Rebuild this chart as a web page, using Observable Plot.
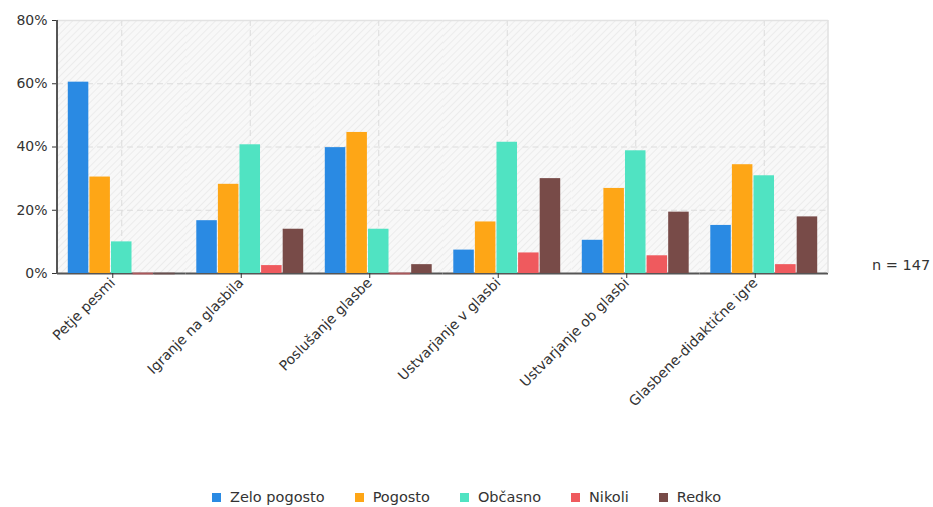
<!DOCTYPE html>
<html>
<head>
<meta charset="utf-8">
<script src="https://cdn.jsdelivr.net/npm/d3@7"></script>
<script src="https://cdn.jsdelivr.net/npm/@observablehq/plot@0.6"></script>
<style>
  body { margin: 0; background: #fff; font-family: "DejaVu Sans", Verdana, sans-serif; color: #333; }
  #wrap { position: relative; width: 933px; height: 507px; }
  #n { position: absolute; left: 872px; top: 257px; font-size: 14.5px; color: #333; }
  #legend { position: absolute; left: 0; width: 933px; top: 489px; display: flex; justify-content: center; gap: 30px; font-size: 14.5px; color: #333; }
  #legend .item { display: flex; align-items: center; gap: 9px; }
  #legend .sw { width: 9px; height: 9px; display: inline-block; }
</style>
</head>
<body>
<div id="wrap">
  <div id="chart"></div>
  <div id="n">n = 147</div>
  <div id="legend"></div>
</div>
<script>
const categories = ["Petje pesmi", "Igranje na glasbila", "Poslušanje glasbe", "Ustvarjanje v glasbi", "Ustvarjanje ob glasbi", "Glasbene-didaktične igre"];
const series = ["Zelo pogosto", "Pogosto", "Občasno", "Nikoli", "Redko"];
const colors = ["#2a8ae3", "#fea616", "#50e3c2", "#ef5a5e", "#784b48"];
const zeloPogosto = [60.5, 16.7, 39.8, 7.4, 10.5, 15.2];
const pogosto     = [30.5, 28.2, 44.6, 16.3, 26.9, 34.4];
const obcasno     = [10.0, 40.7, 14.0, 41.5, 38.8, 30.9];
const nikoli      = [0.0, 2.5, 0.0, 6.5, 5.6, 2.8];
const redko       = [0.0, 14.0, 2.8, 30.0, 19.4, 17.9];
const yTicks = [0, 20, 40, 60, 80];

const seriesValues = [zeloPogosto, pogosto, obcasno, nikoli, redko];
const data = [];
categories.forEach((c, i) => {
  series.forEach((s, j) => data.push({category: c, series: s, value: seriesValues[j][i]}));
});

const plot = Plot.plot({
  width: 933,
  height: 480,
  marginTop: 20,
  marginLeft: 57,
  marginRight: 105,
  marginBottom: 207,
  style: {fontFamily: "'DejaVu Sans', Verdana, sans-serif", fontSize: "12px", color: "#333", background: "transparent", overflow: "visible"},
  fx: {domain: categories, padding: 0, round: false, label: null},
  x: {domain: series, paddingInner: 0.05, paddingOuter: 0.5, round: false, axis: null},
  y: {domain: [0, 80], label: null},
  color: {domain: series, range: colors},
  marks: [
    Plot.frame({fill: "url(#hatch)", stroke: "none"}),
    Plot.gridY(yTicks.filter(d => d > 0 && d < 80), {stroke: "#dcdcdc", strokeOpacity: 1, strokeDasharray: "6,4"}),
    Plot.ruleX([series[2]], {stroke: "#dcdcdc", strokeDasharray: "6,4"}),
    Plot.ruleY([80], {stroke: "#e2e2e2", strokeWidth: 1.5}),
    Plot.ruleY([0], {stroke: "#555", strokeWidth: 2}),
    Plot.barY(data, {fx: "category", x: "series", y: "value", fill: "series"}),
    Plot.tickY(data.filter(d => d.value === 0), {fx: "category", x: "series", y: "value", stroke: "series", strokeWidth: 2, strokeOpacity: 0.55}),
    Plot.axisY({ticks: yTicks, tickFormat: d => d + "%", tickSize: 5, tickPadding: 5, label: null, fontSize: 14}),
    Plot.axisFx({anchor: "bottom", tickRotate: -45, tickSize: 5, tickPadding: 2, dx: -9, label: null, fontSize: 14})
  ]
});

document.getElementById("chart").appendChild(plot);

// hatch pattern & frame borders
const svg = d3.select(plot);
const defs = svg.insert("defs", ":first-child");
const pat = defs.append("pattern")
  .attr("id", "hatch").attr("patternUnits", "userSpaceOnUse")
  .attr("width", 5).attr("height", 5).attr("patternTransform", "rotate(45)");
pat.append("rect").attr("width", 5).attr("height", 5).attr("fill", "#f8f8f8");
pat.append("line").attr("x1", 0).attr("y1", 0).attr("x2", 0).attr("y2", 5).attr("stroke", "#ececec").attr("stroke-width", 2);

const fxr = plot.scale("fx").range;
const yS = plot.scale("y");
const y0 = yS.apply(0), y80 = yS.apply(80);
svg.append("line").attr("x1", fxr[1]).attr("x2", fxr[1]).attr("y1", y80).attr("y2", y0)
  .attr("stroke", "#e2e2e2").attr("stroke-width", 1.5);
svg.append("line").attr("x1", fxr[0]).attr("x2", fxr[0]).attr("y1", y80).attr("y2", y0 + 1)
  .attr("stroke", "#555").attr("stroke-width", 2);

// legend
const legend = document.getElementById("legend");
series.forEach((s, i) => {
  const item = document.createElement("span");
  item.className = "item";
  const sw = document.createElement("span");
  sw.className = "sw";
  sw.style.background = colors[i];
  item.appendChild(sw);
  item.appendChild(document.createTextNode(s));
  legend.appendChild(item);
});
</script>
</body>
</html>
